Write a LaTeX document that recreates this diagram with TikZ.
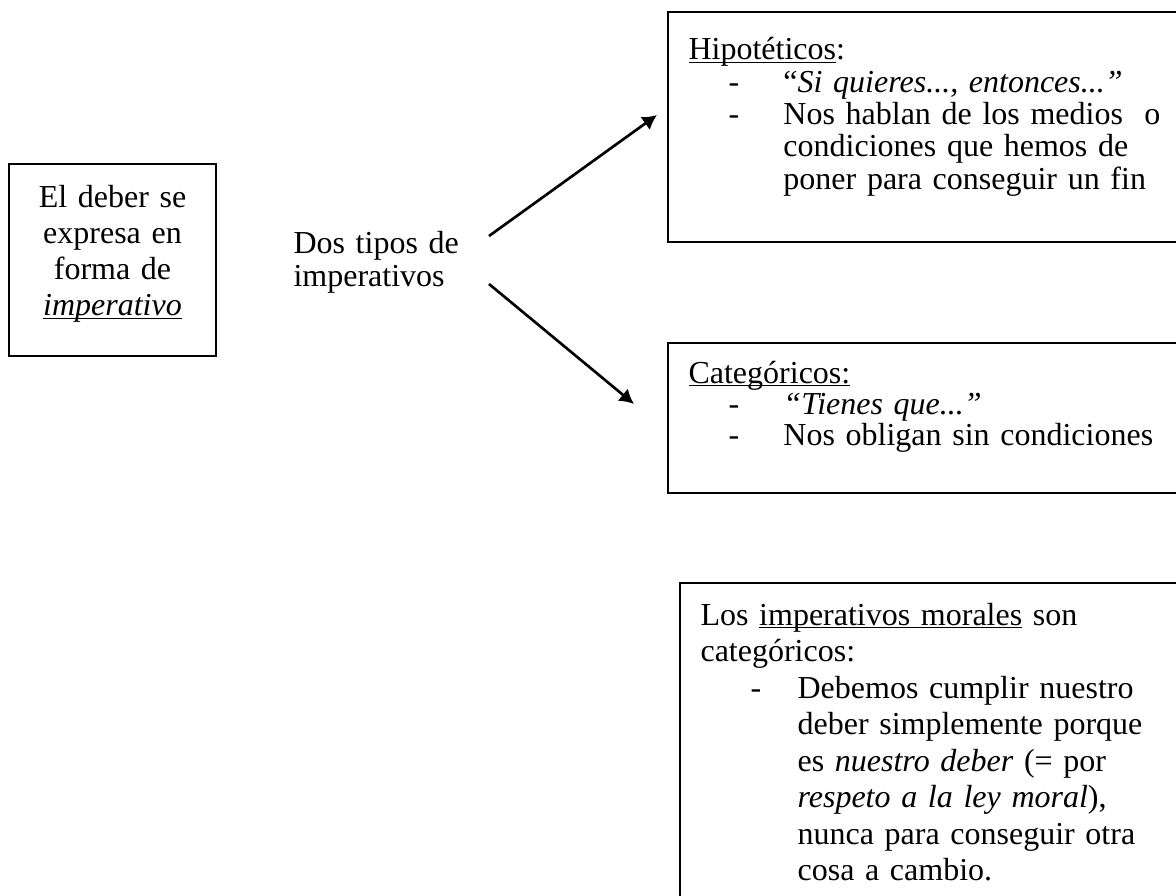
\documentclass[tikz,border=0pt]{standalone}
\usepackage{fontspec}
\setmainfont{Liberation Serif}
\usepackage{tikz}
\usetikzlibrary{positioning,fit,arrows.meta}

% underline that cuts the descenders, as in the original
\newcommand{\wordul}[1]{\leavevmode\setbox0\hbox{#1}\rlap{\rule[-1.3pt]{\wd0}{0.6pt}}#1}
\newcommand{\guion}[2]{\makebox[#2][l]{\hspace*{#1}-}}
\newcommand{\boxfont}[1]{\fontsize{12}{#1}\selectfont}

\begin{document}
\begin{tikzpicture}[x=0.375pt,y=-0.375pt,>={Latex[length=5.4pt,width=6pt]},
	box/.style={draw,line width=0.75pt,inner sep=0pt},
	txt/.style={inner sep=0pt,text width=200pt,anchor=base west}]
	\useasboundingbox (0,0) rectangle (1176,895);

	% left box
	\node[box,fit={(9,164) (216,356)}] (deber) {};
	\node[inner sep=0pt,text width=70pt,anchor=base,
		font={\boxfont{13.6}}] (debertxt) at (112.5,207)
		{\centering El deber se\\expresa en\\forma de\\\wordul{\textit{imperativo}}\par};

	\node[txt,font={\boxfont{12.4}}] (dos) at (293,253)
		{\raggedright Dos tipos de\\imperativos\par};

	% right boxes
	\node[box,fit={(668,12) (1190,242)}] (hip) {};
	\node[txt,font={\boxfont{12.1}}] (hiptxt) at (688,60)
		{\raggedright\wordul{Hipotéticos}:\\
		\guion{15pt}{35.6pt}“\textit{Si quieres..., entonces...”}\\
		\guion{15pt}{35.6pt}Nos hablan de los medios\ \ o\\
		\hspace*{35.6pt}condiciones que hemos de\\
		\hspace*{35.6pt}poner para conseguir un fin\par};

	\node[box,fit={(668,343) (1190,493)}] (cat) {};
	\node[txt,font={\boxfont{11.8}}] (cattxt) at (688,383)
		{\raggedright\wordul{Categóricos:}\\
		\guion{15pt}{35.6pt}\textit{“Tienes que...”}\\
		\guion{15pt}{35.6pt}Nos obligan sin condiciones\par};

	\node[box,fit={(680,583) (1190,905)}] (moral) {};
	\node[txt,font={\boxfont{13.7}}] (moraltxt) at (700,625)
		{\raggedright Los \wordul{imperativos morales} son\\
		categóricos:\\
		\guion{18.75pt}{36.4pt}Debemos cumplir nuestro\\
		\hspace*{36.4pt}deber simplemente porque\\
		\hspace*{36.4pt}es \textit{nuestro deber} (= por\\
		\hspace*{36.4pt}\textit{respeto a la ley moral}),\\
		\hspace*{36.4pt}nunca para conseguir otra\\
		\hspace*{36.4pt}cosa a cambio.\par};

	% arrows
	\coordinate (up0) at (489,236);
	\coordinate (up1) at (657,115);
	\coordinate (dn0) at (489,284);
	\coordinate (dn1) at (634,404);
	\draw[->,line width=1pt] (up0) -- (up1);
	\draw[->,line width=1pt] (dn0) -- (dn1);
\end{tikzpicture}
\end{document}
